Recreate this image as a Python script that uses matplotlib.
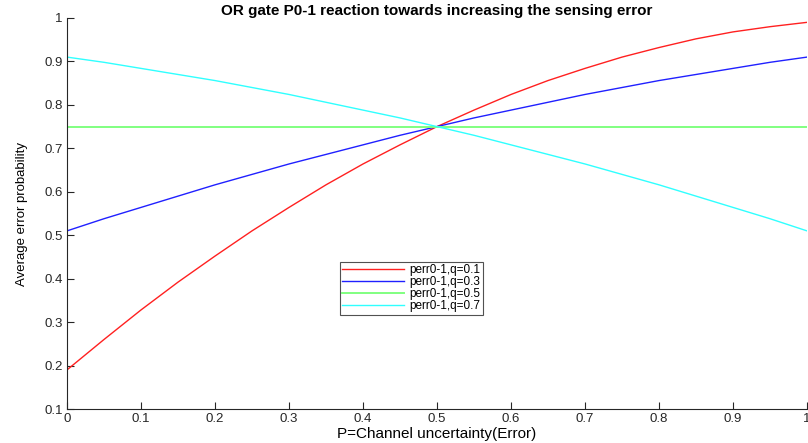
import matplotlib
matplotlib.use("Agg")
import matplotlib.pyplot as plt

plt.rcParams['font.family'] = ['Liberation Sans', 'DejaVu Sans']

x = [0.00, 0.05, 0.10, 0.15, 0.20, 0.25, 0.30, 0.35, 0.40, 0.45, 0.50,
     0.55, 0.60, 0.65, 0.70, 0.75, 0.80, 0.85, 0.90, 0.95, 1.00]
q01 = [0.190, 0.260, 0.328, 0.392, 0.452, 0.510, 0.564, 0.616, 0.664, 0.708, 0.750,
       0.788, 0.824, 0.856, 0.884, 0.910, 0.932, 0.952, 0.968, 0.980, 0.990]
q03 = [0.510, 0.538, 0.564, 0.590, 0.616, 0.640, 0.664, 0.686, 0.708, 0.730, 0.750,
       0.770, 0.788, 0.806, 0.824, 0.840, 0.856, 0.870, 0.884, 0.898, 0.910]
q05 = [0.750] * 21
q07 = [0.910, 0.898, 0.884, 0.870, 0.856, 0.840, 0.824, 0.806, 0.788, 0.770, 0.750,
       0.730, 0.708, 0.686, 0.664, 0.640, 0.616, 0.590, 0.564, 0.538, 0.510]
labels = ['perr0-1,q=0.1', 'perr0-1,q=0.3', 'perr0-1,q=0.5', 'perr0-1,q=0.7']
colors = ['#ff2020', '#2020ff', '#80ff80', '#30ffff']
xticks = [0, 0.1, 0.2, 0.3, 0.4, 0.5, 0.6, 0.7, 0.8, 0.9, 1]
yticks = [0.1, 0.2, 0.3, 0.4, 0.5, 0.6, 0.7, 0.8, 0.9, 1]
xtick_labels = ['0', '0.1', '0.2', '0.3', '0.4', '0.5', '0.6', '0.7', '0.8', '0.9', '1']
ytick_labels = ['0.1', '0.2', '0.3', '0.4', '0.5', '0.6', '0.7', '0.8', '0.9', '1']

fig = plt.figure(figsize=(8.08, 4.43), dpi=100)
ax = fig.add_axes([67/808, 34/443, 740/808, 391/443])

for ys, lab, c in zip([q01, q03, q05, q07], labels, colors):
    ax.plot(x, ys, color=c, lw=1.0 if c != '#80ff80' else 1.4, label=lab)

ax.set_xlim(0, 1)
ax.set_ylim(0.1, 1)
ax.set_xticks(xticks)
ax.set_xticklabels(xtick_labels)
ax.set_yticks(yticks)
ax.set_yticklabels(ytick_labels)
ax.tick_params(direction='in', length=5, width=0.8, labelsize=9.5, colors='#262626', pad=3)
for s in ['top', 'right']:
    ax.spines[s].set_visible(False)
for s in ['left', 'bottom']:
    ax.spines[s].set_color('#262626')
    ax.spines[s].set_linewidth(0.8)

ax.set_title('OR gate P0-1 reaction towards increasing the sensing error',
             fontsize=11, fontweight='bold', pad=1.5)
ax.set_xlabel('P=Channel uncertainty(Error)', fontsize=11, labelpad=1)
ax.set_ylabel('Average error probability', fontsize=9.5, labelpad=12)

leg = ax.legend(loc='upper left', bbox_to_anchor=((340-67)/740, (409-262)/391),
                fontsize=8.5, frameon=True, fancybox=False, edgecolor='#262626',
                handlelength=5.2, labelspacing=0.0, borderpad=0.2,
                handletextpad=0.5, borderaxespad=0)
leg.get_frame().set_linewidth(0.8)

fig.savefig('out.png', dpi=100)
